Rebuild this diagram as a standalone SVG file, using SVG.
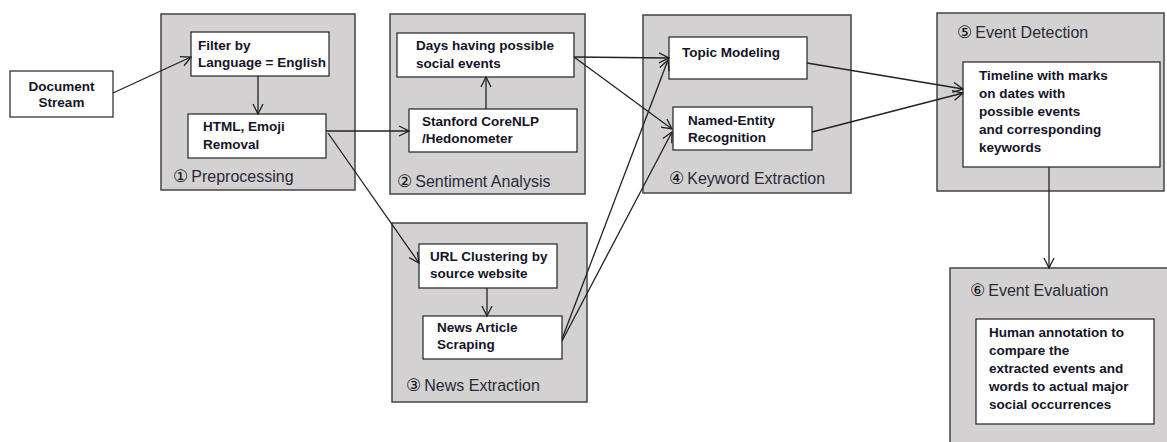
<svg xmlns="http://www.w3.org/2000/svg" width="1167" height="442" viewBox="0 0 1167 442">
<defs>
<style>
.grp{fill:#d3d1d1;stroke:#444;stroke-width:1.5}
.box{fill:#fff;stroke:#222;stroke-width:1.2}
.bt{font-family:"Liberation Sans",Arial,sans-serif;font-weight:bold;font-size:13.5px;fill:#141428}
.gl{font-family:"Liberation Sans","DejaVu Sans",Arial,sans-serif;font-size:16px;fill:#2a2a3a}
.num{font-family:"DejaVu Sans",sans-serif;font-size:17px;fill:#111}
.cn{fill:none;stroke:#222;stroke-width:1.3}
</style>
<marker id="ah" viewBox="0 0 12 12" refX="11" refY="6" markerWidth="12" markerHeight="12" markerUnits="userSpaceOnUse" orient="auto">
<path d="M1,1 L11,6 L1,11" fill="none" stroke="#222" stroke-width="1.3"/>
</marker>
</defs>
<rect width="1167" height="442" fill="#fff"/>

<g id="doc">
<rect class="box" x="10" y="71" width="103" height="46"/>
<text class="bt" x="61.5" y="91" text-anchor="middle">Document</text>
<text class="bt" x="61.5" y="107" text-anchor="middle">Stream</text>
</g>

<g id="preprocessing">
<rect class="grp" x="161" y="14" width="194" height="176"/>
<text x="173" y="182"><tspan class="num">①</tspan><tspan class="gl" dx="3">Preprocessing</tspan></text>
</g>
<g id="filter">
<rect class="box" x="191" y="32" width="138" height="44"/>
<text class="bt" x="198" y="50">Filter by</text>
<text class="bt" x="198" y="67">Language = English</text>
</g>
<g id="html">
<rect class="box" x="188" y="114" width="138" height="44"/>
<text class="bt" x="203" y="131">HTML, Emoji</text>
<text class="bt" x="203" y="149">Removal</text>
</g>

<g id="sentiment">
<rect class="grp" x="390" y="14" width="195" height="180"/>
<text x="397" y="187"><tspan class="num">②</tspan><tspan class="gl" dx="3">Sentiment Analysis</tspan></text>
</g>
<g id="days">
<rect class="box" x="397" y="33" width="177" height="44"/>
<text class="bt" x="416" y="50">Days having possible</text>
<text class="bt" x="416" y="68">social events</text>
</g>
<g id="stanford">
<rect class="box" x="409" y="109" width="168" height="43"/>
<text class="bt" x="422" y="126">Stanford CoreNLP</text>
<text class="bt" x="422" y="143">/Hedonometer</text>
</g>

<g id="newsextraction">
<rect class="grp" x="392" y="223" width="195" height="179"/>
<text x="406" y="391"><tspan class="num">③</tspan><tspan class="gl" dx="3">News Extraction</tspan></text>
</g>
<g id="url">
<rect class="box" x="419" y="244" width="138" height="44"/>
<text class="bt" x="430" y="261">URL Clustering by</text>
<text class="bt" x="430" y="278">source website</text>
</g>
<g id="news">
<rect class="box" x="423" y="316" width="139" height="43"/>
<text class="bt" x="437" y="332">News Article</text>
<text class="bt" x="437" y="349">Scraping</text>
</g>

<g id="keyword">
<rect class="grp" x="643" y="15" width="208" height="178"/>
<text x="669" y="184"><tspan class="num">④</tspan><tspan class="gl" dx="3">Keyword Extraction</tspan></text>
</g>
<g id="topic">
<rect class="box" x="669" y="37" width="138" height="42"/>
<text class="bt" x="682" y="57">Topic Modeling</text>
</g>
<g id="ner">
<rect class="box" x="673" y="107" width="139" height="43"/>
<text class="bt" x="688" y="125">Named-Entity</text>
<text class="bt" x="688" y="142">Recognition</text>
</g>

<g id="eventdetection">
<rect class="grp" x="937" y="13" width="227" height="178"/>
<text x="957" y="38"><tspan class="num">⑤</tspan><tspan class="gl" dx="3">Event Detection</tspan></text>
</g>
<g id="timeline">
<rect class="box" x="963" y="62" width="197" height="105"/>
<text class="bt" x="979" y="80">Timeline with marks</text>
<text class="bt" x="979" y="98">on dates with</text>
<text class="bt" x="979" y="116">possible events</text>
<text class="bt" x="979" y="134">and corresponding</text>
<text class="bt" x="979" y="152">keywords</text>
</g>

<g id="eventevaluation">
<rect class="grp" x="950" y="268" width="220" height="180"/>
<text x="970" y="296"><tspan class="num">⑥</tspan><tspan class="gl" dx="3">Event Evaluation</tspan></text>
</g>
<g id="human">
<rect class="box" x="976" y="319" width="178" height="105"/>
<text class="bt" x="989" y="337">Human annotation to</text>
<text class="bt" x="989" y="355">compare the</text>
<text class="bt" x="989" y="373">extracted events and</text>
<text class="bt" x="989" y="391">words to actual major</text>
<text class="bt" x="989" y="409">social occurrences</text>
</g>

<g id="connectors">
<line class="cn" x1="113" y1="93" x2="191" y2="57" marker-end="url(#ah)"/>
<line class="cn" x1="258" y1="76" x2="258" y2="114" marker-end="url(#ah)"/>
<line class="cn" x1="326" y1="131" x2="409" y2="131" marker-end="url(#ah)"/>
<line class="cn" x1="328" y1="133" x2="419" y2="263" marker-end="url(#ah)"/>
<line class="cn" x1="486" y1="109" x2="486" y2="77" marker-end="url(#ah)"/>
<line class="cn" x1="487" y1="288" x2="487" y2="316" marker-end="url(#ah)"/>
<line class="cn" x1="574" y1="57" x2="669" y2="58" marker-end="url(#ah)"/>
<line class="cn" x1="574" y1="57" x2="672" y2="129" marker-end="url(#ah)"/>
<line class="cn" x1="562" y1="339" x2="668" y2="60" marker-end="url(#ah)"/>
<line class="cn" x1="562" y1="341" x2="672" y2="132" marker-end="url(#ah)"/>
<line class="cn" x1="807" y1="63" x2="963" y2="89" marker-end="url(#ah)"/>
<line class="cn" x1="812" y1="132" x2="963" y2="93" marker-end="url(#ah)"/>
<line class="cn" x1="1049" y1="167" x2="1049" y2="268" marker-end="url(#ah)"/>
</g>
</svg>
